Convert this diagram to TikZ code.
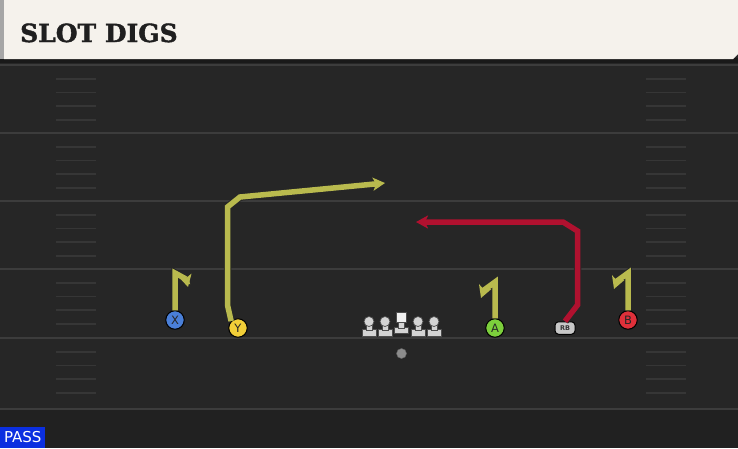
\documentclass[tikz,border=0pt]{standalone}
\usepackage{fontspec}
\setmainfont{DejaVu Sans}
\newfontfamily\titlefont[BoldFeatures={FakeBold=1.6}]{DejaVu Serif}
\usetikzlibrary{arrows.meta}
\definecolor{fieldbg}{HTML}{262626}
\definecolor{fieldlow}{HTML}{212121}
\definecolor{fieldline}{HTML}{3C3C3C}
\definecolor{hashc}{HTML}{363636}
\definecolor{headbg}{HTML}{F5F2EC}
\definecolor{routey}{RGB}{185,186,78}
\definecolor{router}{HTML}{B0112F}
\definecolor{xblue}{HTML}{4A7FD8}
\definecolor{yyel}{HTML}{F2CF38}
\definecolor{agreen}{HTML}{7CCF3C}
\definecolor{bred}{HTML}{E0303A}
\definecolor{rbgray}{HTML}{C8C8C8}
\definecolor{linec}{HTML}{D4D4D4}
\definecolor{passblue}{HTML}{0B2FE0}
\tikzset{
  player/.style={circle,draw=black,line width=1pt,minimum size=18.5pt,inner sep=0pt,font=\fontsize{11.5}{11.5}\selectfont,text=black!85},
  routeline/.style={line width=5.5pt,line join=miter,
    preaction={draw=black!85,line width=7.5pt,-{Stealth[length=14pt,width=16pt,inset=3.5pt]}},
    -{Stealth[length=12pt,width=13pt,inset=3pt]}},
  hashmark/.style={draw=hashc,line width=1.8pt},
  yardline/.style={draw=fieldline,line width=2pt},
  tee/.style={fill=linec,draw=black!70,line width=0.7pt}
}
\begin{document}
\begin{tikzpicture}[x=1pt,y=-1pt]
\useasboundingbox (0,0) rectangle (738,448);
\fill[fieldbg] (0,0) rectangle (738,448);
\fill[fieldlow] (0,409) rectangle (738,448);
% yard lines
\foreach \yy in {65,133,201,269,338,409}{
  \draw[yardline] (0,\yy) -- (738,\yy);
}
% hash marks
\foreach \yy in {65,133,201,269,338}{
  \foreach \k in {1,2,3,4}{
    \draw[hashmark] (56,\yy+13.7*\k) -- (96,\yy+13.7*\k);
    \draw[hashmark] (646,\yy+13.7*\k) -- (686,\yy+13.7*\k);
  }
}
% header
\fill[black!90] (0,58) rectangle (738,63);
\fill[headbg] (4,0) -- (738,0) -- (738,54) -- (733,59) -- (4,59) -- cycle;
\fill[black!35] (0,0) rectangle (4,59);
\node[anchor=base west,inner sep=0pt,font=\titlefont\bfseries\fontsize{25}{25}\selectfont,text=black!88] (title) at (20,42) {SLOT DIGS};
% players
\node[player,fill=xblue] (X) at (175,320) {X};
\node[player,fill=yyel] (Y) at (238,328) {Y};
\node[player,fill=agreen] (A) at (495,328) {A};
\node[player,fill=bred] (B) at (628,320) {B};
\node[draw=black,line width=1pt,fill=rbgray,rounded corners=3.5pt,minimum width=20pt,minimum height=12.5pt,inner sep=0pt,font=\fontsize{6.5}{6.5}\selectfont\bfseries,text=black!80] (RB) at (565,328) {RB};
% offensive line
\foreach \xx/\nm in {369/lt,385/lg,418/rg,434/rt}{
  \fill[tee] (\xx-7,329.5) rectangle (\xx+7,336);
  \fill[tee] (\xx-3,322) rectangle (\xx+3,330.5);
  \node[circle,tee,minimum size=10pt,inner sep=0pt] (\nm) at (\xx,321.5) {};
}
\fill[tee] (394,327) rectangle (408,333.5);
\fill[tee] (398,320) rectangle (404,328);
\node[draw=black!70,fill=white!94!black,line width=0.7pt,minimum size=10pt,inner sep=0pt] (C) at (401,317.5) {};
\node[circle,fill=black!45!white,draw=black!60,minimum size=10pt,inner sep=0pt] (QB) at (401.5,353.5) {};
% routes
\coordinate (x1) at (175,273);
\coordinate (x2) at (188,287);
\draw[routeline,draw=routey] (X.north) -- (x1) -- (186,279) -- (x2);
\coordinate (y1) at (227.5,305);
\coordinate (y2) at (227.5,207);
\coordinate (y3) at (240,197);
\coordinate (y4) at (385,183);
\draw[routeline,draw=routey] (Y.north west) -- (y1) -- (y2) -- (y3) -- (y4);
\coordinate (a1) at (495,282);
\coordinate (a2) at (481,298);
\draw[routeline,draw=routey] (A.north) -- (a1) -- (484,290) -- (a2);
\coordinate (b1) at (628,273);
\coordinate (b2) at (614,289);
\draw[routeline,draw=routey] (B.north) -- (b1) -- (617,281) -- (b2);
\coordinate (r1) at (577.5,305);
\coordinate (r2) at (577.5,231);
\coordinate (r3) at (563,222);
\coordinate (r4) at (416,222);
\draw[routeline,draw=router] (RB.north) -- (r1) -- (r2) -- (r3) -- (r4);
% play type
\node[fill=passblue,anchor=south west,inner sep=0pt,minimum width=45pt,minimum height=21pt,text=white,font=\fontsize{15}{15}\selectfont] (pass) at (0,448) {PASS};
\end{tikzpicture}
\end{document}
